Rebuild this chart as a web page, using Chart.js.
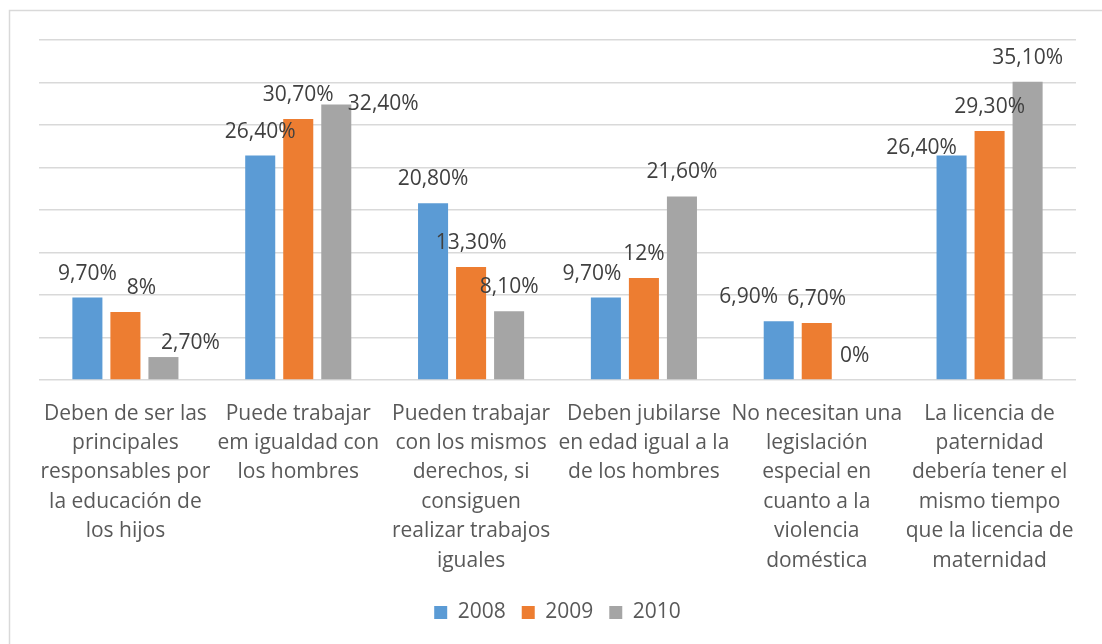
<!DOCTYPE html>
<html>
<head>
<meta charset="utf-8">
<script src="https://cdn.jsdelivr.net/npm/chart.js@4"></script>
<style>
  html, body { margin: 0; padding: 0; background: #fff; }
  #wrap { width: 1102px; height: 644px; }
</style>
</head>
<body>
<div id="wrap"><canvas id="myChart" width="1102" height="644"></canvas></div>
<script>
// Categories (wrapped like the original axis labels)
const categories = [
    ['Deben de ser las', 'principales', 'responsables por', 'la educación de', 'los hijos'],
    ['Puede trabajar', 'em igualdad con', 'los hombres'],
    ['Pueden trabajar', 'con los mismos', 'derechos, si', 'consiguen', 'realizar trabajos', 'iguales'],
    ['Deben jubilarse', 'en edad igual a la', 'de los hombres'],
    ['No necesitan una', 'legislación', 'especial en', 'cuanto a la', 'violencia', 'doméstica'],
    ['La licencia de', 'paternidad', 'debería tener el', 'mismo tiempo', 'que la licencia de', 'maternidad']
];

// Series values (percent)
const values2008 = [9.7, 26.4, 20.8, 9.7, 6.9, 26.4];
const values2009 = [8, 30.7, 13.3, 12, 6.7, 29.3];
const values2010 = [2.7, 32.4, 8.1, 21.6, 0, 35.1];

const seriesNames = ['2008', '2009', '2010'];

// Label nudges as in the original (dx, dy per bar)
const labelShift = [
    [[0, 0], [0, 0], [0, 0], [-14, 0], [-30, 0], [-30, 16]],
    [[16, 0], [0, 0], [0, 0], [0, 0], [0, 0], [0, 0]],
    [[27, 10], [47, 23], [0, 0], [0, 0], [0, 0], [0, 0]]
];

const FONT = "'Open Sans', sans-serif";
const PLOT_BOTTOM = 380;
const PAD_BOTTOM = 11;

function fmt(v) {
    if (Number.isInteger(v)) return v + '%';
    return v.toFixed(2).replace('.', ',') + '%';
}

// Draw value labels above the bars
const valueLabels = {
    id: 'valueLabels',
    afterDatasetsDraw(chart) {
        const ctx = chart.ctx;
        ctx.save();
        ctx.font = '21px ' + FONT;
        ctx.fillStyle = '#404040';
        ctx.textAlign = 'center';
        ctx.textBaseline = 'middle';
        chart.data.datasets.forEach((ds, di) => {
            const meta = chart.getDatasetMeta(di);
            meta.data.forEach((bar, i) => {
                const s = labelShift[di][i];
                ctx.fillText(fmt(ds.data[i]), bar.x + s[0], bar.y - 24 + s[1]);
            });
        });
        ctx.restore();
    }
};

// Thin frame like the original chart border
const frame = {
    id: 'frame',
    beforeDraw(chart) {
        const ctx = chart.ctx;
        ctx.save();
        ctx.strokeStyle = '#D9D9D9';
        ctx.lineWidth = 1.5;
        ctx.strokeRect(9.5, 10.5, 1300, 800);
        ctx.restore();
    }
};

const ctx = document.getElementById('myChart').getContext('2d');

const myChart = new Chart(ctx, {
    type: 'bar',
    data: {
        labels: categories,
        datasets: [
            { label: seriesNames[0], data: values2008, backgroundColor: '#5B9BD5' },
            { label: seriesNames[1], data: values2009, backgroundColor: '#ED7D31' },
            { label: seriesNames[2], data: values2010, backgroundColor: '#A5A5A5' }
        ]
    },
    options: {
        responsive: false,
        animation: false,
        layout: { padding: { left: 39, right: 26, top: 40, bottom: PAD_BOTTOM } },
        datasets: {
            bar: { categoryPercentage: 0.66, barPercentage: 0.79 }
        },
        scales: {
            x: {
                grid: { display: false, drawTicks: false },
                border: { display: false },
                ticks: {
                    color: '#595959',
                    font: { family: FONT, size: 21, lineHeight: 1.4 },
                    padding: 19,
                    maxRotation: 0,
                    autoSkip: false
                },
                afterFit(scale) {
                    const lg = scale.chart.legend ? scale.chart.legend.height : 60;
                    scale.height = 644 - PLOT_BOTTOM - lg - PAD_BOTTOM;
                }
            },
            y: {
                min: 0,
                max: 40,
                ticks: { display: false, stepSize: 5 },
                border: { display: false },
                grid: { color: '#D9D9D9', lineWidth: 1.5, drawTicks: false }
            }
        },
        plugins: {
            legend: {
                position: 'bottom',
                labels: {
                    color: '#595959',
                    font: { family: FONT, size: 21 },
                    boxWidth: 13,
                    boxHeight: 13,
                    padding: 16
                }
            },
            tooltip: { enabled: false }
        }
    },
    plugins: [valueLabels, frame]
});
</script>
</body>
</html>
